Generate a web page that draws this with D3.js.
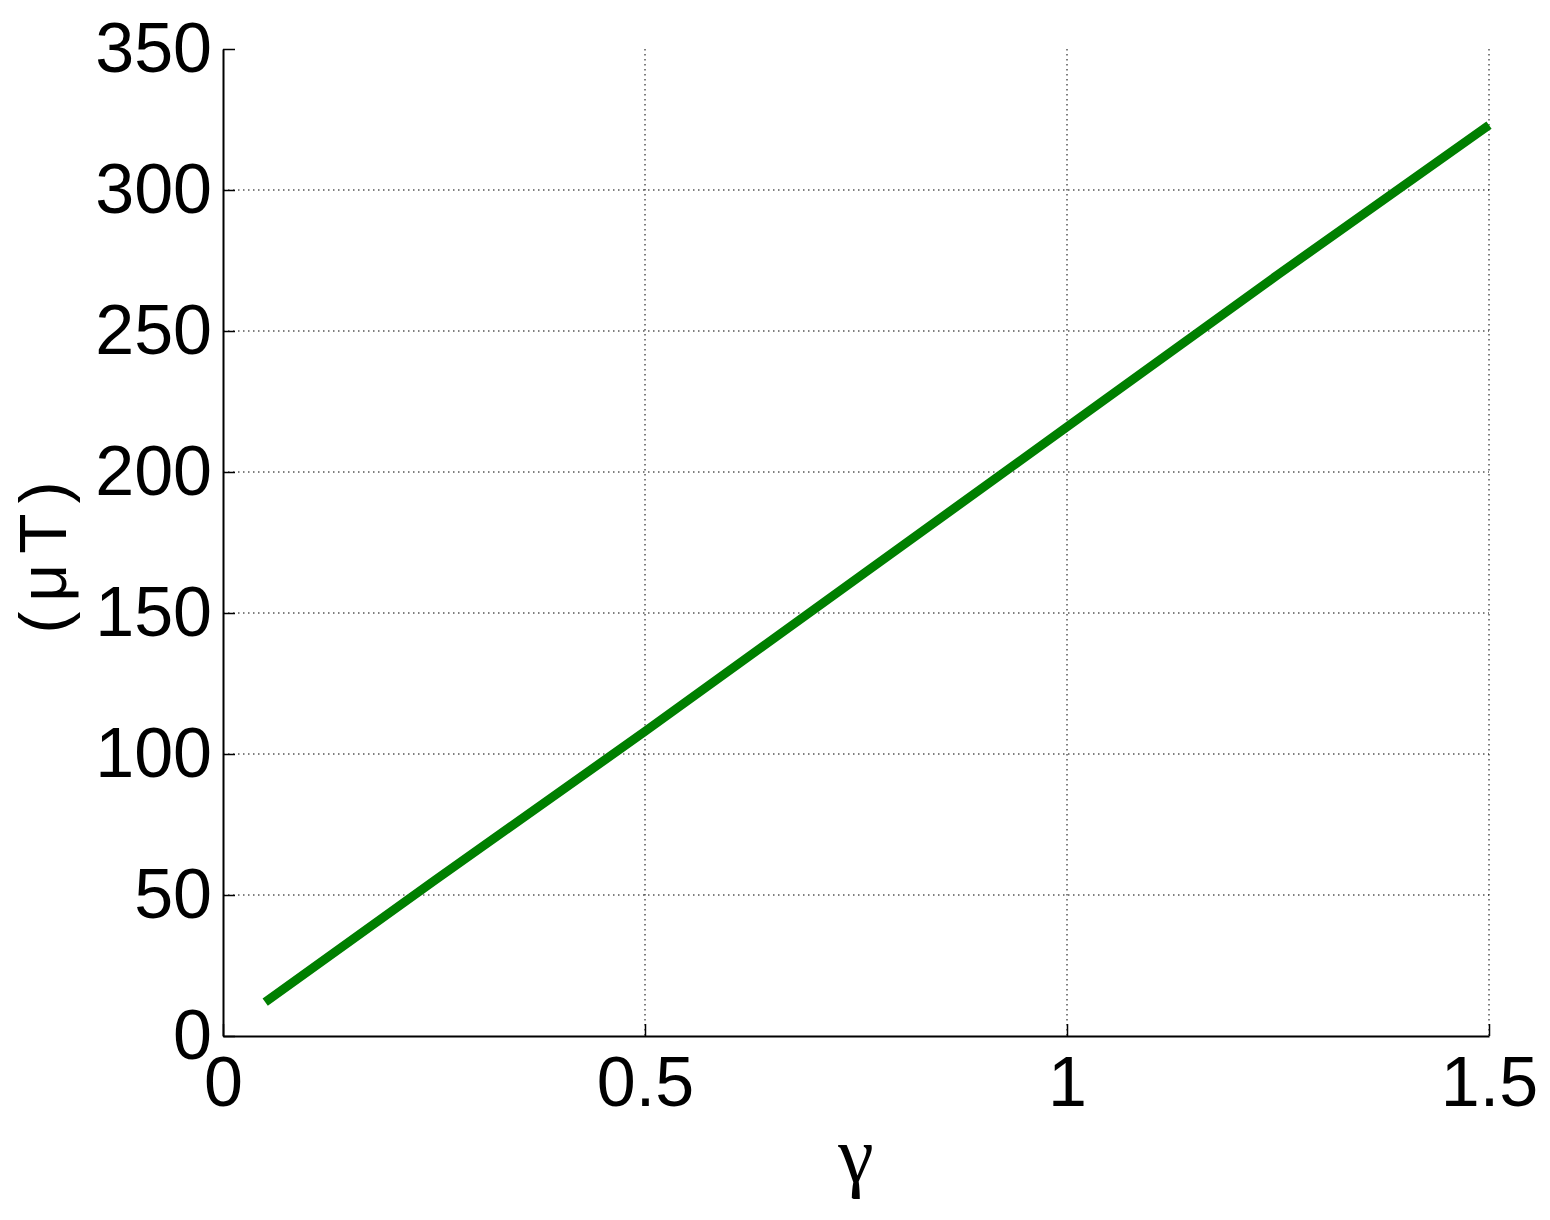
<!DOCTYPE html>
<html>
<head>
<meta charset="utf-8">
<script src="https://cdn.jsdelivr.net/npm/d3@7"></script>
<style>
  body { margin: 0; background: #fff; }
  svg text { font-family: "Liberation Sans", Arial, sans-serif; fill: #000; }
</style>
</head>
<body>
<div id="chart"></div>
<script>
// 数据
let gammaVals = [0.05, 0.25, 0.5, 0.75, 1.0, 1.25, 1.5];
let fieldVals = [12, 55, 108, 162, 216, 270, 323];
let xTicks = [0, 0.5, 1, 1.5];
let xTickLabels = ['0', '0.5', '1', '1.5'];
let yTicks = [0, 50, 100, 150, 200, 250, 300, 350];

let W = 1550, H = 1220;
let margin = {left: 223, top: 49, right: 61, bottom: 184};
let gW = W - margin.left - margin.right;
let gH = H - margin.top - margin.bottom;

let svg = d3.select('#chart').append('svg')
    .attr('width', W).attr('height', H);
let g = svg.append('g').attr('transform', 'translate(' + margin.left + ',' + margin.top + ')');

let xScale = d3.scaleLinear().domain([0, 1.5]).range([0, gW]);
let yScale = d3.scaleLinear().domain([0, 350]).range([gH, 0]);

// 网格
g.selectAll('line.vgrid').data(xTicks.filter(d => d > 0)).enter().append('line')
    .attr('class', 'vgrid')
    .attr('x1', d => xScale(d)).attr('x2', d => xScale(d))
    .attr('y1', 0).attr('y2', gH)
    .attr('stroke', '#000').attr('stroke-width', 1).attr('stroke-dasharray', '1.5,3.5');
g.selectAll('line.hgrid').data(yTicks.filter(d => d > 0 && d < 350)).enter().append('line')
    .attr('class', 'hgrid')
    .attr('x1', 0).attr('x2', gW)
    .attr('y1', d => yScale(d)).attr('y2', d => yScale(d))
    .attr('stroke', '#000').attr('stroke-width', 1).attr('stroke-dasharray', '1.5,3.5');

// 折线
let line_generate = d3.line()
    .x((d, i) => xScale(gammaVals[i]))
    .y(d => yScale(d));
g.append('path').attr('d', line_generate(fieldVals))
    .attr('fill', 'none').attr('stroke', '#007f00').attr('stroke-width', 9);

// 坐标轴
let xAxis = d3.axisBottom(xScale).tickValues(xTicks)
    .tickFormat((d, i) => xTickLabels[i]).tickSizeInner(-12).tickSizeOuter(0).tickPadding(20);
let yAxis = d3.axisLeft(yScale).tickValues(yTicks)
    .tickSizeInner(-12).tickSizeOuter(0).tickPadding(11);

let gx = g.append('g').attr('transform', 'translate(0,' + gH + ')').call(xAxis);
let gy = g.append('g').call(yAxis);
[gx, gy].forEach(a => {
    a.select('.domain').attr('stroke', '#000').attr('stroke-width', 2);
    a.selectAll('.tick line').attr('stroke', '#000').attr('stroke-width', 1.5);
    a.selectAll('.tick text').attr('font-size', 70)
        .attr('font-family', '"Liberation Sans", Arial, sans-serif');
});
gx.selectAll('.tick text').attr('dy', '0.71em');

// 轴标题
svg.append('text')
    .attr('x', margin.left + xScale(0.75)).attr('y', 1182)
    .attr('text-anchor', 'middle')
    .attr('font-size', 80)
    .style('font-family', '"Liberation Serif", "Times New Roman", serif')
    .text('γ');
svg.append('text')
    .attr('transform', 'translate(66,' + (margin.top + gH / 2 + 15) + ') rotate(-90)')
    .attr('text-anchor', 'middle')
    .attr('font-size', 66)
    .attr('textLength', 152)
    .attr('lengthAdjust', 'spacing')
    .text('(μT)');
</script>
</body>
</html>
